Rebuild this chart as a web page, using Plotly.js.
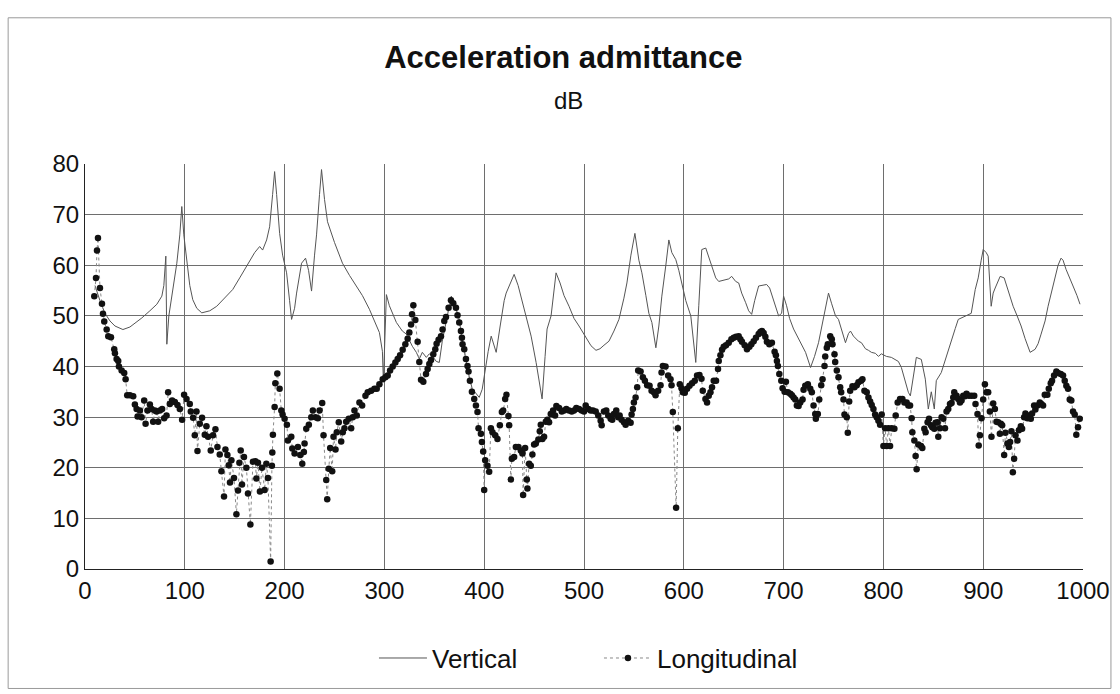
<!DOCTYPE html>
<html>
<head>
<meta charset="utf-8">
<script src="https://cdn.plot.ly/plotly-3.0.1.min.js"></script>
<style>
  html, body { margin: 0; padding: 0; background: #fff; }
  #chart { width: 1120px; height: 694px; }
</style>
</head>
<body>
<div id="chart"></div>
<script>
// Frequency response of the acceleration admittance (dB), two directions.

const seriesNames = ['Vertical', 'Longitudinal'];
const xTicks = [0, 100, 200, 300, 400, 500, 600, 700, 800, 900, 1000];
const yTicks = [0, 10, 20, 30, 40, 50, 60, 70, 80];

// Vertical: frequency and level
const vertFreq = [
  10, 15, 20, 25, 30, 38, 45, 52, 57, 65,
  72, 77, 79, 81, 82, 84, 88, 92, 95, 97,
  99, 102, 105, 108, 112, 117, 125, 132, 140, 148,
  155, 162, 170, 175, 178, 182, 185, 188, 190, 192,
  195, 198, 202, 205, 207, 210, 212, 217, 221, 224,
  227, 230, 232, 235, 237, 240, 243, 250, 258, 265,
  270, 278, 285, 290, 295, 298, 299, 302, 305, 312,
  318, 322, 328, 332, 335, 338, 342, 345, 348, 352,
  355, 358, 362, 365, 367, 370, 375, 378, 382, 385,
  388, 392, 395, 398, 400, 404, 407, 410, 412, 416,
  420, 422, 426, 430, 434, 438, 442, 447, 452, 455,
  458, 461, 463, 467, 470, 472, 476, 480, 485, 490,
  495, 498, 502, 507, 512, 516, 520, 525, 530, 535,
  540, 543, 547, 551, 555, 558, 562, 565, 568, 572,
  575, 578, 582, 585, 588, 592, 595, 598, 602, 607,
  610, 612, 615, 618, 622, 625, 628, 632, 635, 640,
  645, 648, 652, 655, 658, 662, 665, 668, 671, 675,
  678, 683, 686, 690, 695, 698, 700, 703, 706, 710,
  715, 720, 722, 727, 731, 735, 740, 745, 748, 752,
  755, 760, 762, 765, 767, 770, 775, 778, 782, 785,
  788, 792, 795, 798, 803, 808, 812, 815, 818, 822,
  825, 827, 830, 833, 838, 842, 845, 848, 851, 853,
  858, 860, 865, 868, 872, 875, 880, 885, 888, 892,
  895, 898, 900, 903, 905, 908, 910, 912, 917, 921,
  925, 930, 934, 938, 942, 947, 952, 955, 958, 962,
  965, 970, 972, 975, 978, 980, 983, 987, 990, 994,
  997
];
const vertDb = [
  56, 53, 50.5, 49, 48, 47.3, 47.8, 48.8, 49.6, 51,
  52.3, 53.9, 56, 61.8, 44.4, 50, 55, 60.4, 66, 71.6,
  66, 60.4, 56, 53.2, 51.5, 50.6, 51, 51.9, 53.5, 55.2,
  57.5, 59.8, 62.5, 63.7, 63, 65, 67.6, 74, 78.5, 74,
  66.3, 62, 58.5, 53, 49.3, 51.5, 54.5, 60.4, 61.4, 59,
  54.9, 62, 66, 74, 78.9, 73, 68.6, 64.5, 60.4, 58,
  56.5, 54, 51.3, 49, 46.7, 43, 37, 54.2, 52, 48.7,
  47, 46.4, 44, 42.8, 41.5, 42.8, 41.8, 42.5, 42.1, 41,
  40.8, 45, 49.3, 52, 53.9, 52.5, 49.3, 45, 40.8, 38,
  35.6, 34.5, 33.9, 35.5, 38.2, 43, 46, 44, 42.8, 48,
  53, 54.5, 56.5, 58.2, 56, 53, 50, 46, 40.8, 37,
  33.6, 42, 47.4, 50, 55, 58.5, 56.5, 54, 51.9, 49.5,
  48, 47, 45.5, 44.1, 43.2, 43.5, 44.2, 45, 47, 49.3,
  53.5, 56.5, 62, 66.3, 61, 58.5, 54, 50.5, 48.7, 43.7,
  48, 53.9, 60, 65, 62.5, 61.1, 59, 56.5, 53, 50,
  45, 40.8, 52, 63.1, 63.4, 61.5, 59.8, 57.5, 56.8, 57,
  57.3, 57.8, 56.8, 56.5, 54.5, 52.6, 51, 50.3, 53, 55.9,
  56, 56.2, 55.5, 53, 50, 50.5, 53.9, 52, 49.5, 47.4,
  45.5, 43.5, 42.8, 39.8, 42, 44.7, 50, 54.5, 52.5, 50,
  49.3, 46, 44.7, 46.5, 47, 46, 45, 44.7, 43.5, 43.2,
  42.8, 42.6, 42, 42.5, 42, 41.8, 41.4, 41, 39.8, 37,
  34.9, 34.2, 38, 41.8, 41.4, 37.5, 31.6, 35, 31.6, 37.2,
  38.8, 40.1, 43.4, 45, 47.5, 49.3, 49.8, 50.3, 50.5, 55.2,
  57.5, 61, 63.1, 62.5, 61.8, 51.9, 54.5, 55.5, 57.8, 57.5,
  55, 51.9, 50, 48, 45.5, 42.8, 43.4, 44.5, 46.4, 49,
  51.9, 56, 57.8, 60, 61.4, 61, 59.2, 57.5, 55.9, 54,
  52.3
];

// Longitudinal: frequency and level
const longFreq = [
  9.3, 11, 12, 13, 15, 17, 18, 19.3, 21.7, 23.3,
  26, 29.3, 30, 31.7, 33.3, 34, 36.7, 39.3, 40.7, 42.3,
  45, 48.3, 50, 51.7, 52.7, 55, 56.7, 59.3, 60.7, 62.7,
  65, 66.7, 68.3, 70, 71.7, 73.3, 75, 77.3, 79.3, 81.7,
  83.3, 85, 87.3, 90, 92.7, 95, 97.3, 99.3, 101.7, 105,
  106, 108.3, 110, 111.7, 112.7, 115, 117.3, 120, 121.7, 123.3,
  126, 128.3, 130.7, 132.7, 135, 136.7, 139.3, 140.7, 142.7, 144,
  145.3, 146.7, 149.3, 151.7, 153.3, 154.7, 156, 157.3, 159.3, 161.7,
  163.3, 165.7, 168.3, 170.7, 171.7, 173.3, 175.3, 177.3, 180, 181.7,
  183.3, 186, 187.3, 187.7, 188.3, 190, 190.7, 192.7, 195, 196.7,
  198, 200, 202.3, 203.3, 206.7, 207.7, 210, 213.3, 215.7, 217.7,
  219.3, 220, 221.7, 224.3, 226.7, 228.3, 231, 233.3, 235, 237.7,
  239, 241.7, 242.7, 244.3, 245.7, 247.7, 249, 251, 252.3, 254.3,
  256.7, 258.3, 260, 261.7, 264.3, 266.7, 268.3, 270, 272.3, 275,
  277.7, 281, 283.3, 286.7, 290, 292.3, 295, 298.3, 301, 303.3,
  305.7, 308.3, 311, 313.3, 315.7, 318.3, 321, 323.3, 325, 326.7,
  327.7, 329, 331, 333.3, 335, 336.7, 339, 341.7, 343.3, 345,
  346.7, 349, 351, 352.3, 354.3, 356.7, 358.3, 360, 361.7, 364.3,
  366.7, 369, 371.7, 373.3, 375, 376.7, 377.7, 378.3, 380, 381.7,
  383.3, 384.3, 385.7, 387.7, 390, 391.7, 393.3, 394.3, 396.7, 397.7,
  399, 400, 401, 403.3, 405, 406.7, 408.3, 411, 413.3, 415.7,
  417.7, 419, 421, 422.3, 424.3, 425, 426.7, 427.7, 430, 431.7,
  434.3, 436.7, 438.3, 439, 441, 442.7, 443.3, 445, 446.7, 448.3,
  450, 451.7, 454.3, 455.7, 456.7, 458.3, 460, 461.7, 463.3, 465,
  466.7, 469, 471, 472.3, 475, 477.7, 480, 482.3, 485, 487.7,
  490, 492.3, 495, 497.7, 500, 501.7, 504.3, 506.7, 509, 511.7,
  514.3, 516.7, 517.7, 520, 522.3, 524.3, 526.7, 528.3, 530, 532.3,
  534.3, 535.7, 537.7, 540, 541.7, 544.3, 546.7, 547.7, 549, 550,
  551.7, 553.3, 554.3, 556.7, 559, 561, 563.3, 565.7, 567.7, 570,
  571.7, 574.3, 576.7, 577.7, 579, 581.7, 584.3, 586.7, 587.7, 589,
  592.3, 594, 596, 597.7, 599, 601, 603.3, 605.7, 608.3, 611,
  613.3, 615.7, 617.7, 619, 621.7, 623.3, 625, 626.7, 628.3, 630,
  632.3, 634.3, 635, 636.7, 638.3, 640, 642.3, 645, 647.7, 650,
  652.3, 655, 656.7, 658.3, 661, 663.3, 665.7, 667.7, 670, 672.3,
  675, 676.7, 678.3, 680, 681.7, 683.3, 685.7, 688.3, 691, 692.3,
  693.3, 694.3, 695.7, 697.7, 699, 701, 702.3, 704.3, 706.7, 708.3,
  710, 711.7, 713.3, 715, 716.7, 719, 720, 721.7, 724.3, 726.7,
  728.3, 730, 731.7, 732.3, 734.3, 735.7, 737.7, 739, 741, 741.7,
  743.3, 744.3, 746.7, 748.3, 749, 751, 751.7, 753.3, 755, 756.7,
  757.7, 760, 761, 763.3, 764.3, 765.7, 766.7, 769, 771, 773.3,
  775, 777.7, 779, 781, 783.3, 785, 786.7, 788.3, 790, 791.7,
  793.3, 795, 796.7, 798.3, 800, 801.7, 803.3, 805, 806.7, 808.3,
  811, 812.3, 814.3, 816.7, 819, 821, 823.3, 825, 826.7, 828.3,
  829, 831, 832.3, 833.3, 835, 837.7, 839, 841, 842.3, 844.3,
  845.7, 847.7, 849, 851, 852.3, 854.3, 855, 856.7, 858.3, 860,
  861.7, 863.3, 865, 866.7, 868.3, 870, 871, 873.3, 875, 876.7,
  878.3, 880, 881.7, 883.3, 885.7, 888.3, 891, 892.3, 894.3, 895.5,
  896.7, 898.3, 900, 901.7, 903.3, 905, 906.7, 908.3, 910, 911.7,
  913.3, 915, 916.7, 917.7, 919, 921, 922.3, 924.3, 925.7, 927,
  928.3, 929.7, 931, 932.3, 934.3, 935.7, 937.7, 939, 941, 942.3,
  944.3, 945.7, 947.7, 949, 951, 952.3, 954.3, 956.7, 958.3, 960,
  961.7, 964.3, 965.7, 967.7, 969, 971, 973.3, 975, 977.7, 980,
  981.7, 983.3, 985, 986.7, 988.3, 990, 991.7, 993.3, 995, 996.7
];
const longDb = [
  53.9, 57.5, 62.9, 65.4, 55.5, 52.4, 50.4, 48.9, 47.3, 46,
  45.8, 43.4, 42.6, 41.5, 41.1, 40, 39.2, 38.7, 37.5, 34.3,
  34.3, 34.1, 32.5, 31.6, 30.1, 31.3, 30, 33.3, 28.7, 31.3,
  32.5, 31.6, 29.1, 31.3, 31.1, 29.1, 31.3, 31.6, 29.8, 30.3,
  34.9, 32.6, 33.3, 33, 32.4, 31.6, 29.5, 34.4, 33.6, 32.6,
  31.1, 29.9, 26.4, 31.1, 23.3, 28.7, 29.9, 26.5, 28.2, 26.1,
  23.4, 26.4, 27.6, 24.1, 22.6, 19.3, 14.3, 23.6, 22.5, 20.5,
  17.1, 21.5, 18, 10.8, 15.5, 21, 23.4, 16.7, 22.1, 20,
  14.9, 8.8, 21.2, 21.3, 17.9, 21, 15.3, 20, 15.6, 20.8,
  18, 1.5, 20.4, 23, 26.5, 32, 36.7, 38.6, 35.6, 31.3,
  30.5, 29.7, 28.5, 25.4, 26.1, 23.8, 22.8, 24.1, 22.5, 20.8,
  23.1, 24.8, 27.7, 28.5, 30, 31.3, 30, 29.8, 31.3, 32.8,
  26.4, 17.6, 13.8, 19.8, 23.9, 19.3, 26.1, 23.6, 27, 29,
  25.2, 27, 27.8, 29.1, 29.7, 27.8, 30, 31.3, 30.3, 32.9,
  32.3, 34.2, 34.9, 35.2, 35.6, 35.6, 36.5, 37.5, 37.9, 38.2,
  39.2, 40, 40.8, 41.5, 42.2, 43.3, 44.4, 45.5, 46.7, 48.3,
  50.3, 52.1, 49.2, 44.9, 40.9, 37.4, 37, 38.5, 39.5, 40.5,
  41.3, 42.4, 43.4, 44.5, 45.3, 46, 47.3, 49, 49.8, 51.6,
  53.1, 52.5, 51.6, 50.1, 48.7, 47, 45.7, 44.4, 43.4, 41.5,
  40.1, 39, 37.2, 35, 33.6, 32.3, 31, 27.8, 26.7, 25.1,
  23.2, 15.6, 21.5, 20.4, 19.2, 27.8, 27, 26.4, 25.7, 28.4,
  31, 31.3, 33.6, 34.4, 30.2, 28.4, 17.7, 21.8, 22.1, 24.1,
  24.1, 23.4, 22.8, 14.6, 23.9, 17.7, 15.9, 20.8, 20.4, 22.6,
  24.6, 24.8, 25.6, 27.2, 28.5, 25.7, 26.1, 29.1, 29.5, 29,
  30.6, 31.3, 30.3, 32.2, 31.8, 31.1, 31.3, 31.6, 31.3, 31.1,
  31.3, 31.8, 31.6, 31.3, 31.1, 32.3, 31.6, 31.3, 31.3, 31.1,
  30.3, 29.3, 28.4, 31.1, 31.3, 30.3, 29.7, 29.5, 30.6, 31.3,
  30, 30.3, 29.5, 29, 28.5, 29.3, 28.9, 30.5, 31.6, 32.9,
  33.9, 35.9, 39.2, 39, 37.9, 37.2, 36.3, 36.2, 35.2, 34.9,
  34.3, 35.2, 36.3, 38.8, 40.1, 40, 38.2, 37.5, 36.3, 31,
  12.1, 27.8, 36.5, 35.7, 34.9, 34.8, 35.6, 36.2, 36.7, 37.2,
  38.2, 38.3, 37.6, 35.2, 33.6, 32.9, 34.2, 34.9, 35.9, 37.2,
  37.2, 39.5, 41.1, 42.2, 43.3, 43.9, 44.2, 44.7, 45.4, 45.7,
  45.9, 46, 45.4, 44.9, 44.2, 43.4, 43.9, 44.4, 45, 45.7,
  46.4, 46.8, 47, 46.6, 45.9, 44.9, 44.4, 44.7, 42.9, 42.2,
  41.1, 40.1, 38.5, 37.2, 35.7, 35, 37, 34.9, 34.6, 34.3,
  33.9, 33.5, 32.3, 32.2, 32.9, 33.5, 35.4, 36.2, 36.5, 35.6,
  34.9, 32.3, 30.6, 29.7, 30.6, 33.5, 36.3, 37.5, 40.1, 42,
  43.7, 44.4, 46, 45.4, 44.4, 42.4, 40.9, 39.2, 37.9, 35.9,
  34.9, 33.5, 30.5, 30, 26.9, 33.1, 35.2, 36.1, 35.9, 36.3,
  36.9, 37.2, 37.5, 35.2, 34.9, 33.9, 33.1, 32.4, 31.6, 30.5,
  30, 29.3, 28.5, 30.5, 24.3, 27.8, 24.3, 27.8, 24.3, 27.8,
  27.7, 30.3, 32.9, 33.6, 33.6, 32.9, 32.9, 32.3, 32.3, 29.8,
  27, 25.4, 22.3, 19.7, 24.6, 24.3, 23.9, 27.7, 27, 29,
  29.7, 28.4, 28, 27.7, 28.9, 29, 26.1, 27.8, 30, 29.7,
  27.8, 31.1, 31.6, 32.6, 32.8, 33.9, 34.9, 34.2, 33.6, 32.9,
  33.3, 34.2, 34.1, 34.6, 34.2, 34.2, 34.2, 32.6, 30.6, 24.4,
  26.4, 29.8, 33.5, 36.5, 34.9, 34.9, 31.1, 26.1, 32.7, 31.6,
  29.1, 29, 26.7, 28.7, 28.4, 22.5, 26.9, 24.8, 24.1, 25.1,
  27.2, 19.1, 21.8, 26.4, 25.4, 27.4, 28.2, 27.7, 30, 30.7,
  29.8, 30.3, 29.7, 30.7, 32.3, 31.5, 32.3, 32.9, 32.6, 32.3,
  34.4, 34.4, 35.6, 36.7, 37.2, 38.2, 39, 38.7, 38.5, 38.2,
  37.2, 36.2, 35.6, 33.5, 33.3, 31.1, 30.5, 26.5, 28, 29.7
];

const FONT = 'Liberation Sans, Arial, Helvetica, sans-serif';

const traces = [
  {
    x: vertFreq, y: vertDb, name: seriesNames[0],
    type: 'scatter', mode: 'lines',
    line: { color: '#555555', width: 1 }
  },
  {
    x: longFreq, y: longDb, name: seriesNames[1],
    type: 'scatter', mode: 'lines+markers',
    line: { color: '#888888', width: 1, dash: 'dot' },
    marker: { color: '#111111', size: 6.5, symbol: 'circle', line: { width: 0 } }
  }
];

const layout = {
  width: 1120, height: 694,
  paper_bgcolor: '#ffffff', plot_bgcolor: '#ffffff',
  margin: { l: 85, r: 37, t: 164, b: 123 },
  font: { family: FONT, color: '#111111' },
  title: {
    text: '<b>Acceleration admittance</b>',
    font: { family: FONT, size: 31, color: '#111111' },
    x: 0.503, xanchor: 'center',
    y: 0.918, yanchor: 'middle', yref: 'container'
  },
  annotations: [{
    text: 'dB', xref: 'paper', yref: 'paper',
    x: 0.484, y: 1.157, xanchor: 'center', yanchor: 'middle',
    showarrow: false, font: { family: FONT, size: 24, color: '#111111' }
  }],
  xaxis: {
    range: [0, 1000], tickvals: xTicks, ticktext: xTicks.map(String),
    showgrid: true, gridcolor: '#6e6e6e', gridwidth: 1,
    showline: true, linecolor: '#222222', linewidth: 1, mirror: false,
    ticks: '', ticklabelstandoff: 0,
    tickfont: { family: FONT, size: 24, color: '#111111' },
    zeroline: false, fixedrange: true
  },
  yaxis: {
    range: [0, 80], tickvals: yTicks, ticktext: yTicks.map(String),
    showgrid: true, gridcolor: '#6e6e6e', gridwidth: 1,
    showline: true, linecolor: '#222222', linewidth: 1, mirror: false,
    ticks: '', ticklabelstandoff: 0,
    tickfont: { family: FONT, size: 24, color: '#111111' },
    zeroline: false, fixedrange: true
  },
  legend: {
    orientation: 'h', x: 0.515, xanchor: 'center',
    y: -0.22, yanchor: 'middle',
    font: { family: FONT, size: 26, color: '#111111' },
    itemwidth: 48, entrywidth: 162, entrywidthmode: 'pixels',
    bgcolor: 'rgba(0,0,0,0)'
  },
  shapes: [{
    type: 'rect', xref: 'paper', yref: 'paper',
    x0: -0.077, x1: 1.028, y0: -0.295, y1: 1.361,
    line: { color: '#9a9a9a', width: 1 }, fillcolor: 'rgba(0,0,0,0)',
    layer: 'below'
  }],
  showlegend: true
};

Plotly.newPlot('chart', traces, layout, { displayModeBar: false, staticPlot: true });
</script>
</body>
</html>
